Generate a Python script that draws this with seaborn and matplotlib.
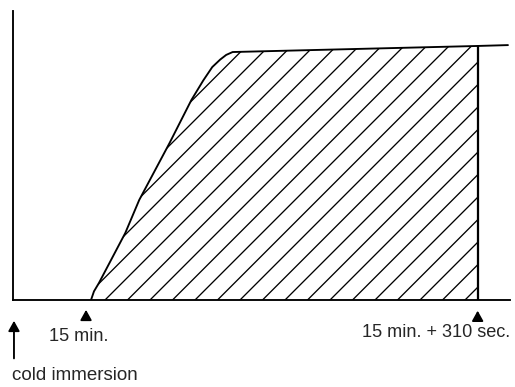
import numpy as np
import pandas as pd
import matplotlib
matplotlib.use('Agg')
import matplotlib.pyplot as plt
import seaborn as sns

# schematic time axis (arbitrary units, 0 = cold immersion) and response level
rise_x = [15.7, 16.3, 17.3, 22.6, 25.4, 31.5, 35.9, 38.3, 40.1, 41.7, 42.9, 44.2, 93.5]
rise_y = [0.0, 3.0, 5.9, 23.2, 34.6, 54.3, 69.2, 76.0, 80.6, 83.2, 84.8, 85.8, 87.9]
tail_x = [93.5, 99.6]
tail_y = [87.9, 88.2]

marks_x = [0.2, 14.7, 93.5]
marks_text = ['cold immersion', '15 min.', '15 min. + 310 sec.']

sns.set_style('white')
plt.rcParams['font.family'] = ['Liberation Sans', 'DejaVu Sans']
plt.rcParams['hatch.linewidth'] = 0.7

fig = plt.figure(figsize=(515 / 135, 387 / 135), dpi=135)
ax = fig.add_axes([0.0252, 0.2248, 0.965, 0.7468])

df = pd.DataFrame({'x': rise_x, 'y': rise_y})
sns.lineplot(data=df, x='x', y='y', color='black', lw=1.0, ax=ax, sort=False)
sns.lineplot(x=tail_x, y=tail_y, color='black', lw=1.0, ax=ax)
ax.fill_between(rise_x, 0, rise_y, facecolor='none', edgecolor='black',
                hatch='//', linewidth=0)
ax.vlines(rise_x[-1], 0, rise_y[-1], color='black', lw=1.2)

ax.set_xlim(0, 100)
ax.set_ylim(0, 100)
ax.set_xticks([])
ax.set_yticks([])
ax.set_xlabel('')
ax.set_ylabel('')
for s in ['top', 'right']:
    ax.spines[s].set_visible(False)
for s in ['left', 'bottom']:
    ax.spines[s].set_color('black')
    ax.spines[s].set_linewidth(1.0)

arrow = dict(arrowstyle='-|>,head_length=0.45,head_width=0.25', color='black', lw=1.0)
# cold immersion: long arrow
ax.annotate('', xy=(marks_x[0], -5.9), xytext=(marks_x[0], -21.5),
            arrowprops=arrow, annotation_clip=False)
ax.text(-0.2, -26.0, marks_text[0], ha='left', va='center', fontsize=10)
# 15 min.
ax.annotate('', xy=(marks_x[1], -2.1), xytext=(marks_x[1], -6.5),
            arrowprops=arrow, annotation_clip=False)
ax.text(7.3, -12.5, marks_text[1], ha='left', va='center', fontsize=9.7)
# 15 min. + 310 sec.
ax.annotate('', xy=(marks_x[2], -2.4), xytext=(marks_x[2], -6.5),
            arrowprops=arrow, annotation_clip=False)
ax.text(100, -11.4, marks_text[2], ha='right', va='center', fontsize=9.7)

fig.savefig('out.png', dpi=135)
